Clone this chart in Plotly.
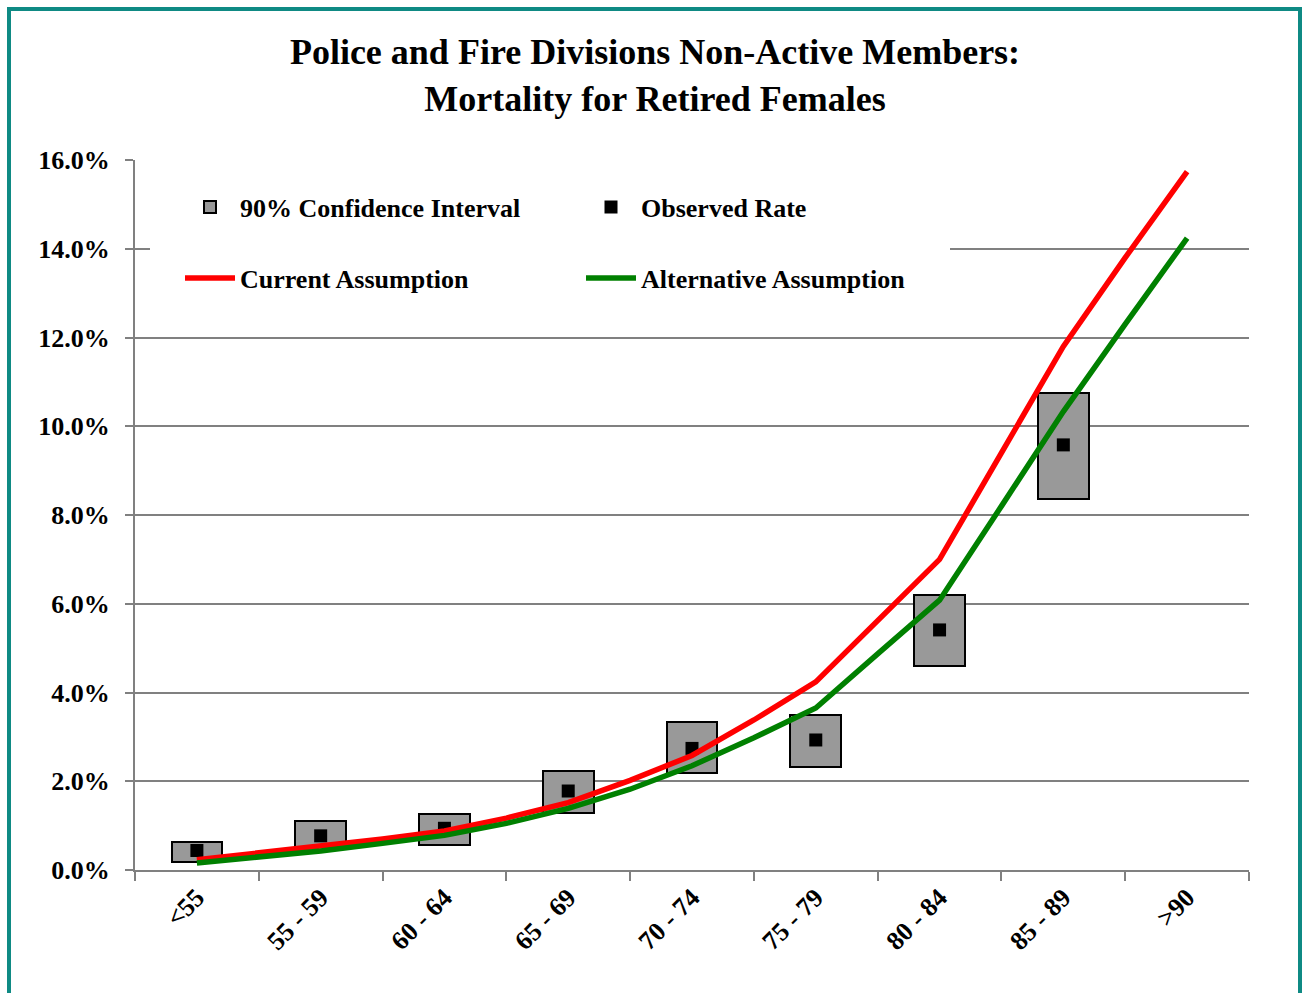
import plotly.graph_objects as go

# Age groups on the x axis
age_groups = ["<55", "55 - 59", "60 - 64", "65 - 69", "70 - 74",
              "75 - 79", "80 - 84", "85 - 89", ">90"]

# 90% confidence interval bounds and observed mortality rates (fractions)
ci_lower = [0.0017, 0.0051, 0.0056, 0.0128, 0.0218, 0.0231, 0.0460, 0.0835, None]
ci_upper = [0.0063, 0.0111, 0.0126, 0.0222, 0.0334, 0.0349, 0.0620, 0.1076, None]
observed = [0.0044, 0.0077, 0.0094, 0.0178, 0.0274, 0.0293, 0.0541, 0.0958, None]

# Assumed rates, evaluated at each age group and half-way between groups
line_steps = [i / 2 for i in range(17)]
current_assumption = [0.0023, 0.0038, 0.0053, 0.0070, 0.0088, 0.0117, 0.0152,
                      0.0202, 0.0258, 0.0338, 0.0424, 0.0563, 0.0700, 0.0940,
                      0.1180, 0.1380, 0.1574]
alternative_assumption = [0.0016, 0.0029, 0.0043, 0.0060, 0.0078, 0.0105, 0.0139,
                          0.0182, 0.0235, 0.0298, 0.0365, 0.0487, 0.0608, 0.0820,
                          0.1033, 0.1230, 0.1424]

y_ticks = [0.00, 0.02, 0.04, 0.06, 0.08, 0.10, 0.12, 0.14, 0.16]

positions = list(range(len(age_groups)))
ci_height = [None if lo is None else hi - lo for lo, hi in zip(ci_lower, ci_upper)]

W, H = 1304, 993
M_L, M_R, M_T, M_B = 135, 55, 160, 123
SERIF = "Liberation Serif, Times New Roman, serif"
GRID = "#808080"


def px_x(px):
    return (px - M_L) / (W - M_L - M_R)


def px_y(py):
    return (H - M_B - py) / (H - M_T - M_B)


fig = go.Figure()

fig.add_trace(go.Bar(
    x=positions, y=ci_height, base=ci_lower, width=0.41,
    name="90% Confidence Interval",
    marker=dict(color="#999999", line=dict(color="black", width=2)),
    legend="legend",
))
fig.add_trace(go.Scatter(
    x=positions, y=observed, mode="markers", name="Observed Rate",
    marker=dict(symbol="square", size=13, color="black"),
    legend="legend",
))
fig.add_trace(go.Scatter(
    x=line_steps, y=current_assumption, mode="lines", name="Current Assumption",
    line=dict(color="#ff0000", width=5.5),
    legend="legend2",
))
fig.add_trace(go.Scatter(
    x=line_steps, y=alternative_assumption, mode="lines", name="Alternative Assumption",
    line=dict(color="#008000", width=5.5),
    legend="legend2",
))

legend_common = dict(
    orientation="h", xanchor="left", yanchor="middle",
    bgcolor="white", borderwidth=0,
    font=dict(family=SERIF, size=26, color="black", weight="bold"),
    entrywidthmode="pixels", entrywidth=336, itemwidth=50,
    traceorder="normal",
)

fig.update_layout(
    width=W, height=H,
    margin=dict(l=M_L, r=M_R, t=M_T, b=M_B),
    paper_bgcolor="white", plot_bgcolor="white",
    showlegend=True,
    title=dict(
        text="<b>Police and Fire Divisions Non-Active Members:<br>Mortality for Retired Females</b>",
        x=px_x(655), xref="paper", xanchor="center",
        y=1 - 64 / H, yref="container", yanchor="middle",
        font=dict(family=SERIF, size=36, color="black"),
    ),
    legend=dict(x=px_x(180), y=px_y(207), **legend_common),
    legend2=dict(x=px_x(180), y=px_y(278), **legend_common),
    xaxis=dict(
        range=[-0.5, 8.5], tickmode="array", tickvals=positions, ticktext=age_groups,
        tickangle=-45, ticks="", showgrid=False, zeroline=False,
        showline=True, linecolor=GRID, linewidth=2,
        minor=dict(tick0=-0.5, dtick=1, ticks="outside", ticklen=9,
                   tickcolor=GRID, tickwidth=2, showgrid=False),
        tickfont=dict(family=SERIF, size=26, color="black", weight="bold"),
    ),
    yaxis=dict(
        range=[0, 0.16], tickmode="array", tickvals=y_ticks, tickformat=".1%",
        showgrid=True, gridcolor=GRID, gridwidth=2, zeroline=False,
        showline=True, linecolor=GRID, linewidth=2,
        ticks="outside", ticklen=8, tickcolor=GRID, tickwidth=2,
        ticklabelstandoff=10,
        tickfont=dict(family=SERIF, size=26, color="black", weight="bold"),
    ),
    bargap=0,
)

# Legend panel hides the gridline behind it (no data falls in this area)
fig.add_shape(type="rect", xref="paper", yref="paper", layer="above",
              x0=px_x(150), x1=px_x(950), y0=px_y(300), y1=px_y(185),
              fillcolor="white", line=dict(width=0))

# Teal frame around the chart
fig.add_shape(type="rect", xref="paper", yref="paper", layer="above",
              x0=px_x(9), x1=px_x(1300), y0=px_y(1010), y1=px_y(9),
              fillcolor="rgba(0,0,0,0)", line=dict(color="#0f8a84", width=4))

fig.write_html("out.html")
